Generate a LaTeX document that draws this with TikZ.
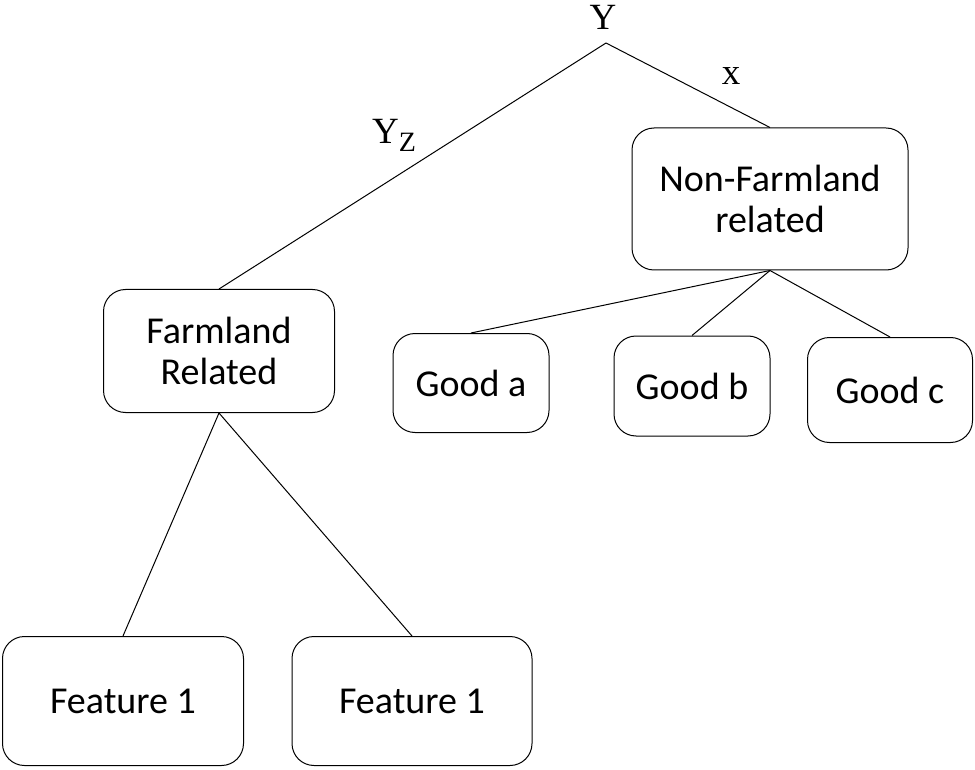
\documentclass[tikz,border=0pt]{standalone}
\usepackage{fontspec}
\setmainfont{Carlito}
\newfontfamily\labelfont{Liberation Serif}
\usepackage{tikz}

\begin{document}
\begin{tikzpicture}[x=1pt,y=-1pt,
    box/.style={draw,line width=1pt,rounded corners=22pt,align=center,inner sep=0pt,
        font=\fontsize{38}{41}\selectfont},
    lbl/.style={font=\labelfont\fontsize{37}{37}\selectfont,inner sep=0pt}]
    \useasboundingbox (0,0) rectangle (975,770);

    \coordinate (Root) at (606,43);
    \node[box,minimum width=276,minimum height=142] (NonFarm) at (770,199) {Non-Farmland\\related};
    \node[box,minimum width=231,minimum height=123] (Farm) at (219,351) {Farmland\\Related};
    \node[box,minimum width=156,minimum height=99] (GoodA) at (471,383) {Good a};
    \node[box,minimum width=156,minimum height=100] (GoodB) at (692,386) {Good b};
    \node[box,minimum width=165,minimum height=105] (GoodC) at (890,390) {Good c};
    \node[box,minimum width=241,minimum height=129] (FeatA) at (123,701) {Feature 1};
    \node[box,minimum width=240,minimum height=129] (FeatB) at (412,701) {Feature 1};

    \node[lbl] (RootLbl) at (603,17) {Y};
    \node[lbl] (LeftLbl) at (394,135) {Y\raisebox{-8pt}{\fontsize{28}{28}\selectfont Z}};
    \node[lbl] (RightLbl) at (731,76) {x};

    \draw[line width=1pt] (Root) -- (Farm.north);
    \draw[line width=1pt] (Root) -- (NonFarm.north);
    \draw[line width=1pt] (NonFarm.south) -- (GoodA.north);
    \draw[line width=1pt] (NonFarm.south) -- (GoodB.north);
    \draw[line width=1pt] (NonFarm.south) -- (GoodC.north);
    \draw[line width=1pt] (Farm.south) -- (FeatA.north);
    \draw[line width=1pt] (Farm.south) -- (FeatB.north);
\end{tikzpicture}
\end{document}
